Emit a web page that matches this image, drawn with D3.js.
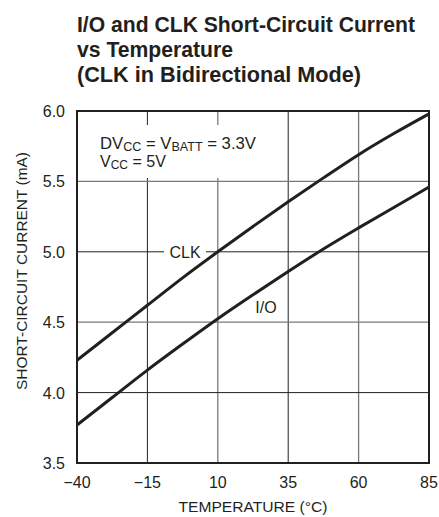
<!DOCTYPE html>
<html>
<head>
<meta charset="utf-8">
<script src="https://cdn.jsdelivr.net/npm/d3@7"></script>
<style>
  html, body { margin: 0; padding: 0; background: #fff; }
  svg { display: block; }
  text { font-family: 'Liberation Sans Narrow', 'Arial Narrow', 'Liberation Sans', Arial, sans-serif; fill: #231f20; }
</style>
</head>
<body>
<svg id="chart" width="439" height="517"></svg>
<script>
// ---- data ----
const temps      = [-40, -27.5, -15, -2.5, 10, 22.5, 35, 47.5, 60, 72.5, 85];
const clkCurrent = [4.23, 4.425, 4.62, 4.815, 5.00, 5.18, 5.355, 5.525, 5.69, 5.84, 5.98];
const ioCurrent  = [3.77, 3.965, 4.16, 4.345, 4.525, 4.695, 4.86, 5.02, 5.17, 5.315, 5.46];
const xTicks = [-40, -15, 10, 35, 60, 85];
const yTicks = [3.5, 4.0, 4.5, 5.0, 5.5, 6.0];
const titleLines = ["I/O and CLK Short-Circuit Current", "vs Temperature", "(CLK in Bidirectional Mode)"];
const xLabel = "TEMPERATURE (°C)";
const yLabel = "SHORT-CIRCUIT CURRENT (mA)";

const svg = d3.select("#chart");
const m = {left: 77, right: 429, top: 111, bottom: 463};
const x = d3.scaleLinear().domain([-40, 85]).range([m.left, m.right]);
const y = d3.scaleLinear().domain([3.5, 6.0]).range([m.bottom, m.top]);

// title
const titleW = [338, 156, 284];
titleLines.forEach((t, i) => {
  svg.append("text").attr("x", 77).attr("y", 32 + i * 25)
    .attr("font-size", 22).attr("font-weight", "bold")
    .attr("textLength", titleW[i]).attr("lengthAdjust", "spacingAndGlyphs")
    .text(t);
});

// grid
const darkX = new Set([-15, 35]);
const darkY = new Set([4.0, 5.0]);
svg.append("g").selectAll("line").data(xTicks.slice(1, -1)).join("line")
  .attr("x1", d => x(d)).attr("x2", d => x(d))
  .attr("y1", m.top).attr("y2", m.bottom)
  .attr("stroke", d => darkX.has(d) ? "#231f20" : "#7a7a7a")
  .attr("stroke-width", d => darkX.has(d) ? 1 : 1.3);
svg.append("g").selectAll("line").data(yTicks.slice(1, -1)).join("line")
  .attr("y1", d => y(d)).attr("y2", d => y(d))
  .attr("x1", m.left).attr("x2", m.right)
  .attr("stroke", d => darkY.has(d) ? "#231f20" : "#7a7a7a")
  .attr("stroke-width", d => darkY.has(d) ? 1 : 1.3);

// annotation background
svg.append("rect").attr("x", 95).attr("y", 125).attr("width", 168).attr("height", 53).attr("fill", "#fff");
// CLK label background
svg.append("rect").attr("x", 164).attr("y", y(5.0) - 9).attr("width", 42).attr("height", 18).attr("fill", "#fff");

// curves
const line = d3.line().x(d => x(d[0])).y(d => y(d[1])).curve(d3.curveMonotoneX);
[clkCurrent, ioCurrent].forEach(s => {
  svg.append("path").datum(temps.map((t, i) => [t, s[i]]))
    .attr("d", line).attr("fill", "none").attr("stroke", "#231f20")
    .attr("stroke-width", 3).attr("stroke-linejoin", "round");
});

// frame
svg.append("rect").attr("x", m.left).attr("y", m.top)
  .attr("width", m.right - m.left).attr("height", m.bottom - m.top)
  .attr("fill", "none").attr("stroke", "#231f20").attr("stroke-width", 2);

// axes tick labels
const fmtX = d => d < 0 ? "\u2212" + Math.abs(d) : String(d);
svg.append("g").selectAll("text").data(xTicks).join("text")
  .attr("x", d => x(d)).attr("y", 488).attr("text-anchor", "middle")
  .attr("font-size", 16).text(fmtX);
svg.append("g").selectAll("text").data(yTicks).join("text")
  .attr("x", 65).attr("y", d => y(d) + 6).attr("text-anchor", "end")
  .attr("font-size", 16).text(d => d.toFixed(1));

// axis titles
svg.append("text").attr("x", 253).attr("y", 512).attr("text-anchor", "middle")
  .attr("font-size", 15).attr("textLength", 149).attr("lengthAdjust", "spacingAndGlyphs")
  .text(xLabel);
svg.append("text").attr("transform", "translate(27,271) rotate(-90)")
  .attr("text-anchor", "middle").attr("font-size", 15)
  .attr("textLength", 238).attr("lengthAdjust", "spacingAndGlyphs")
  .text(yLabel);

// annotation
const a1 = svg.append("text").attr("x", 100).attr("y", 149).attr("font-size", 16)
  .attr("textLength", 156).attr("lengthAdjust", "spacingAndGlyphs");
a1.append("tspan").text("DV");
a1.append("tspan").attr("font-size", 12).attr("dy", 2).text("CC");
a1.append("tspan").attr("dy", -2).text(" = V");
a1.append("tspan").attr("font-size", 12).attr("dy", 2).text("BATT");
a1.append("tspan").attr("dy", -2).text(" = 3.3V");
const a2 = svg.append("text").attr("x", 100).attr("y", 167).attr("font-size", 16);
a2.append("tspan").text("V");
a2.append("tspan").attr("font-size", 12).attr("dy", 2).text("CC");
a2.append("tspan").attr("dy", -2).text(" = 5V");

// curve labels
svg.append("text").attr("x", 185).attr("y", y(5.0) + 6).attr("text-anchor", "middle")
  .attr("font-size", 16).text("CLK");
svg.append("text").attr("x", 266).attr("y", 313).attr("text-anchor", "middle")
  .attr("font-size", 16).text("I/O");
</script>
</body>
</html>
